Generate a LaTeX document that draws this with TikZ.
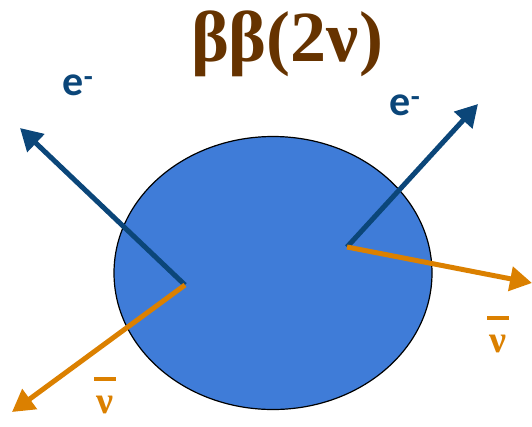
\documentclass[tikz,border=0pt]{standalone}
\usepackage{fontspec}
\usetikzlibrary{arrows.meta,shapes.geometric}
\newfontfamily\titlefont{Liberation Serif}
\newfontfamily\labfont{Carlito}
\definecolor{nucblue}{HTML}{3F7CD8}
\definecolor{elblue}{HTML}{0B4679}
\definecolor{nuorange}{HTML}{DB8000}
\definecolor{titlebrown}{HTML}{663300}
\begin{document}
\begin{tikzpicture}[x=1pt,y=-1pt,
  partarrow/.style={line width=5pt,-{Triangle[length=22pt,width=24pt]}},
  elec/.style={partarrow,draw=elblue,fill=elblue},
  neut/.style={partarrow,draw=nuorange,fill=nuorange},
  elabel/.style={text=elblue,font=\labfont\bfseries\fontsize{42}{42}\selectfont,inner sep=0pt},
  nlabel/.style={text=nuorange,font=\titlefont\bfseries\fontsize{38}{38}\selectfont,inner sep=0pt,anchor=south}]
\useasboundingbox (0,0) rectangle (532,426);
\node[draw=black,line width=1.2pt,fill=nucblue,ellipse,minimum width=318pt,minimum height=273pt,inner sep=0pt] (nucleus) at (273,273) {};
\node[text=titlebrown,font=\titlefont\bfseries\fontsize{72}{72}\selectfont,inner sep=0pt] (title) at (287,44) {ββ(2ν)};
\coordinate (vL) at (185,285);
\coordinate (vR) at (347,247);
\coordinate (eLend) at (20,128);
\coordinate (nLend) at (12,412);
\coordinate (eRend) at (478,104);
\coordinate (nRend) at (532,283);
\draw[elec] (vL) -- (eLend);
\draw[neut] (vL) -- (nLend);
\draw[elec] (vR) -- (eRend);
\draw[neut] (vR) -- (nRend);
\node[elabel] (eL) at (78,85) {e\textsuperscript{-}};
\node[elabel] (eR) at (405,105) {e\textsuperscript{-}};
\node[nlabel] (nL) at (105,414) {\shortstack{\rule{22pt}{4pt}\\[12pt]ν}};
\node[nlabel] (nR) at (498,353) {\shortstack{\rule{22pt}{4pt}\\[12pt]ν}};
\end{tikzpicture}
\end{document}
